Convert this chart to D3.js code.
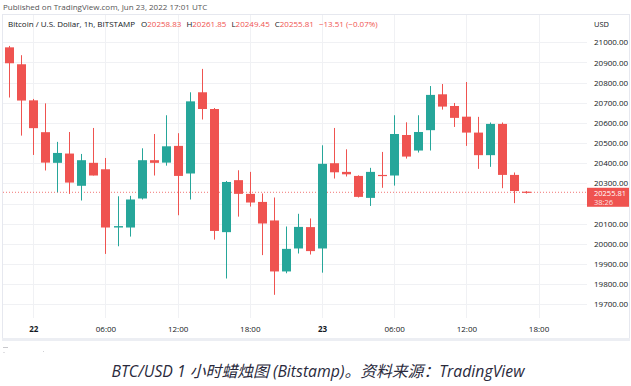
<!DOCTYPE html>
<html>
<head>
<meta charset="utf-8">
<script src="https://cdn.jsdelivr.net/npm/d3@7"></script>
<style>
  html, body { margin: 0; padding: 0; background: #ffffff; }
  svg { display: block; }
</style>
</head>
<body>
<svg id="chart" width="631" height="386"></svg>
<script>
// ---------- data ----------
const startTime = "2022-06-21T22:00:00Z"; // first hourly candle
const opens  = [20975,20891,20712,20554,20402,20448,20288,20402,20370,20081,20081,20225,20415,20403,20486,20349,20752,20669,20058,20316,20248,20208,20116,19863,19977,20083,19977,20400,20357,20337,20228,20342,20339,20540,20463,20564,20742,20684,20631,20552,20440,20595,20342,20258.83];
const highs  = [20982,20936,20719,20697,20506,20555,20446,20575,20426,20236,20238,20474,20545,20638,20549,20752,20868,20674,20312,20365,20357,20250,20230,20086,20149,20126,20489,20575,20469,20340,20377,20456,20638,20603,20638,20783,20793,20699,20803,20630,20602,20602,20354,20261.85];
const lows   = [20726,20537,20441,20364,20256,20248,20215,20339,19950,19988,20036,20220,20339,20388,20142,20220,20617,20021,19828,20135,20185,19944,19747,19854,19952,19947,19857,20324,20334,20230,20188,20278,20289,20423,20453,20463,20666,20580,20486,20372,20382,20276,20202,20249.45];
const closes = [20896,20711,20574,20403,20451,20304,20415,20339,20081,20088,20220,20415,20402,20484,20337,20707,20669,20064,20307,20248,20205,20101,19863,19975,20084,19964,20397,20355,20345,20233,20357,20339,20545,20433,20555,20739,20681,20625,20552,20440,20595,20342,20262,20255.81];
const priceTicks = [21000,20900,20800,20700,20600,20500,20400,20300,20100,20000,19900,19800,19700];
const gridPrices = [21000,20900,20800,20700,20600,20500,20400,20300,20200,20100,20000,19900,19800,19700];
const timeTicks = ["2022-06-22T00:00:00Z","2022-06-22T06:00:00Z","2022-06-22T12:00:00Z","2022-06-22T18:00:00Z","2022-06-23T00:00:00Z","2022-06-23T06:00:00Z","2022-06-23T12:00:00Z","2022-06-23T18:00:00Z"];
const timeLabels = ["22","06:00","12:00","18:00","23","06:00","12:00","18:00"];
const lastPrice = 20255.81;
const countdown = "38:26";
const headerText = "Published on TradingView.com, Jun 23, 2022 17:01 UTC";
const symbolText = "Bitcoin / U.S. Dollar, 1h, BITSTAMP";
const ohlcText = [["O","20258.83"],["H","20261.85"],["L","20249.45"],["C","20255.81"]];
const changeText = "\u221213.51 (\u22120.07%)";
const captionText = "BTC/USD 1 小时蜡烛图 (Bitstamp)。资料来源：TradingView";

// ---------- layout ----------
const UP = "#26a69a", DOWN = "#ef5350";
const paneL = 3, paneR = 587, paneT = 14, paneB = 318;
const font = "'Open Sans', 'Noto Sans', 'Noto Sans CJK SC', sans-serif";

const svg = d3.select("#chart");
const t0 = new Date(startTime).getTime();
const candles = opens.map((o, i) => ({
  t: new Date(t0 + i * 3600 * 1000), o, h: highs[i], l: lows[i], c: closes[i]
}));

const x = d3.scaleUtc()
  .domain([new Date("2022-06-22T00:00:00Z"), new Date("2022-06-23T00:00:00Z")])
  .range([33.3, 322]);
const y = d3.scaleLinear().domain([19700, 21000]).range([304.3, 42.3]);

// frame
svg.append("rect").attr("x", 0).attr("y", 0).attr("width", 631).attr("height", 386).attr("fill", "#fff");
svg.append("rect").attr("x", 2.5).attr("y", 14.5).attr("width", 627).attr("height", 325)
  .attr("fill", "none").attr("stroke", "#e6e8ef").attr("stroke-width", 1);
svg.append("rect").attr("x", 2).attr("y", 338).attr("width", 628).attr("height", 3).attr("fill", "#eceef3");

// grid
svg.append("g").selectAll("line").data(gridPrices).join("line")
  .attr("x1", paneL).attr("x2", paneR)
  .attr("y1", d => Math.round(y(d)) + 0.5).attr("y2", d => Math.round(y(d)) + 0.5)
  .attr("stroke", "#f0f1f4").attr("stroke-width", 1);
svg.append("g").selectAll("line").data(timeTicks).join("line")
  .attr("x1", d => Math.round(x(new Date(d))) + 0.5).attr("x2", d => Math.round(x(new Date(d))) + 0.5)
  .attr("y1", paneT + 1).attr("y2", paneB)
  .attr("stroke", "#f0f1f4").attr("stroke-width", 1);

// header
svg.append("text").attr("x", 3).attr("y", 10).attr("font-family", font).attr("font-size", 8)
  .attr("fill", "#555").text(headerText);

// legend line
const leg = svg.append("text").attr("x", 8).attr("y", 27).attr("font-family", font).attr("font-size", 8).attr("fill", "#131722");
leg.append("tspan").text(symbolText);
ohlcText.forEach(([k, v], i) => {
  leg.append("tspan").attr("dx", i === 0 ? 6 : 5).attr("fill", "#131722").text(k);
  leg.append("tspan").attr("fill", DOWN).text(v);
});
leg.append("tspan").attr("dx", 5).attr("fill", DOWN).text(changeText);

// last price line
svg.append("line").attr("x1", paneL).attr("x2", paneR)
  .attr("y1", y(lastPrice)).attr("y2", y(lastPrice))
  .attr("stroke", DOWN).attr("stroke-opacity", 0.8).attr("stroke-width", 1).attr("stroke-dasharray", "1,2");

// candles
const bw = 9;
const g = svg.append("g");
candles.forEach(d => {
  const cx = Math.round(x(d.t)) + 0.5;
  const col = d.c >= d.o ? UP : DOWN;
  g.append("line").attr("x1", cx).attr("x2", cx).attr("y1", y(d.h)).attr("y2", y(d.l))
    .attr("stroke", col).attr("stroke-width", 1);
  const top = y(Math.max(d.o, d.c)), bot = y(Math.min(d.o, d.c));
  g.append("rect").attr("x", cx - bw / 2).attr("y", top).attr("width", bw)
    .attr("height", Math.max(1.2, bot - top)).attr("fill", col);
});

// price axis
const yAxis = svg.append("g").attr("transform", `translate(${paneR},0)`)
  .call(d3.axisRight(y).tickValues(priceTicks).tickSize(0).tickPadding(7).tickFormat(d3.format(".2f")));
yAxis.select(".domain").remove();
yAxis.selectAll("text").attr("font-family", font).attr("font-size", 8).attr("fill", "#131722");
svg.append("text").attr("x", 594).attr("y", 27).attr("font-family", font).attr("font-size", 7.5)
  .attr("fill", "#131722").text("USD");

// last price label
const ly = y(lastPrice);
svg.append("rect").attr("x", paneR).attr("y", ly - 4.5).attr("width", 42).attr("height", 19).attr("fill", DOWN);
svg.append("text").attr("x", 594).attr("y", ly + 3.8).attr("font-family", font).attr("font-size", 7.5)
  .attr("fill", "#fff").text(d3.format(".2f")(lastPrice));
svg.append("text").attr("x", 594).attr("y", ly + 12.3).attr("font-family", font).attr("font-size", 7.5)
  .attr("fill", "#fde3e3").text(countdown);

// time axis
const xAxis = svg.append("g").attr("transform", `translate(0,${paneB})`)
  .call(d3.axisBottom(x).tickValues(timeTicks.map(d => new Date(d))).tickSize(0).tickPadding(8)
    .tickFormat((d, i) => timeLabels[i]));
xAxis.select(".domain").remove();
xAxis.selectAll("text").attr("font-family", font).attr("font-size", 8).attr("fill", "#131722")
  .attr("font-weight", (d, i) => timeLabels[i].length <= 2 ? "bold" : "normal");

// faint logo marks
svg.append("rect").attr("x", 3).attr("y", 347).attr("width", 5).attr("height", 1).attr("fill", "#c8c8cc");
svg.append("rect").attr("x", 3).attr("y", 352).attr("width", 2).attr("height", 1).attr("fill", "#e0e0e3");
svg.append("rect").attr("x", 43).attr("y", 351).attr("width", 1).attr("height", 1).attr("fill", "#d0d0d4");

// caption
svg.append("text").attr("x", 318).attr("y", 377).attr("text-anchor", "middle")
  .attr("font-family", "'Open Sans', 'Noto Sans CJK SC', sans-serif").attr("font-style", "italic")
  .attr("font-size", 15.8).attr("fill", "#2a2a3c").text(captionText);
</script>
</body>
</html>
